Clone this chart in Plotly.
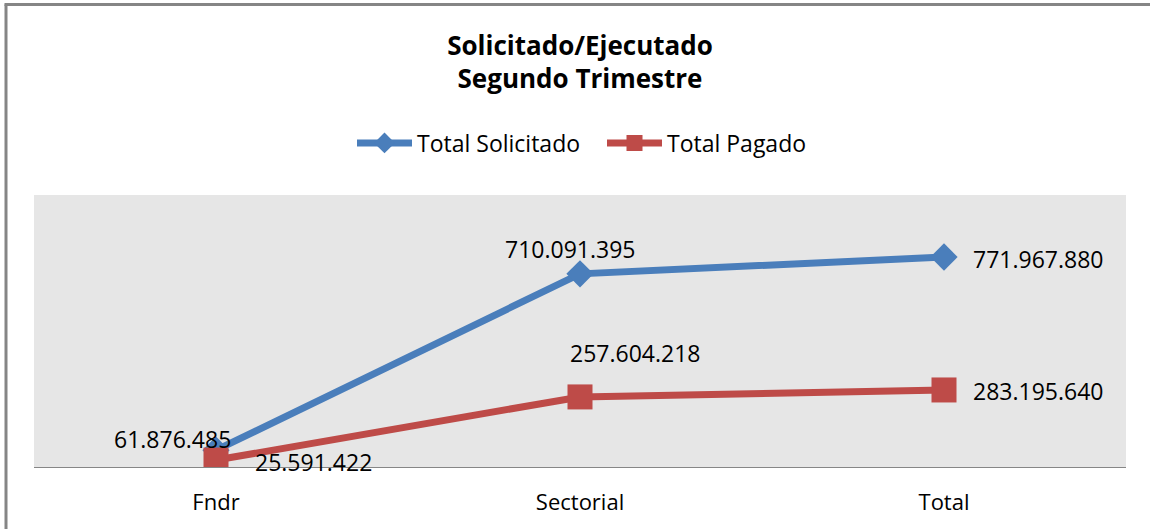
import plotly.graph_objects as go

categories = ["Fndr", "Sectorial", "Total"]
solicitado = [61876485, 710091395, 771967880]
pagado = [25591422, 257604218, 283195640]
solicitado_labels = ["61.876.485", "710.091.395", "771.967.880"]
pagado_labels = ["25.591.422", "257.604.218", "283.195.640"]

FONT = "Open Sans, Liberation Sans, sans-serif"
BLUE = "#4A7EBB"
RED = "#BE4B48"

fig = go.Figure()
fig.add_trace(go.Scatter(
    x=categories, y=solicitado, name="Total Solicitado", mode="lines+markers",
    line=dict(color=BLUE, width=7),
    marker=dict(symbol="diamond", size=21, color=BLUE),
))
fig.add_trace(go.Scatter(
    x=categories, y=pagado, name="Total Pagado", mode="lines+markers",
    line=dict(color=RED, width=7),
    marker=dict(symbol="square", size=25, color=RED),
))

# data labels (offsets in pixels relative to each point)
blue_off = [(-44, 11, "center"), (-10, 25, "center"), (27, -2, "left")]
red_off = [(37, -2, "left"), (55, 44, "center"), (27, -1, "left")]
for cat, val, lab, (dx, dy, xa) in zip(categories, solicitado, solicitado_labels, blue_off):
    fig.add_annotation(x=cat, y=val, text=lab, showarrow=False, xanchor=xa, yanchor="middle",
                       xshift=dx, yshift=dy, font=dict(family=FONT, size=23, color="#000000"))
for cat, val, lab, (dx, dy, xa) in zip(categories, pagado, pagado_labels, red_off):
    fig.add_annotation(x=cat, y=val, text=lab, showarrow=False, xanchor=xa, yanchor="middle",
                       xshift=dx, yshift=dy, font=dict(family=FONT, size=23, color="#000000"))

# outer frame (top and left edges visible)
L, R, T, B = 34, 24, 195, 62
W, H = 1150, 529
pw, ph = W - L - R, H - T - B
def px(x):
    return (x - L) / pw
def py(y):
    return (H - B - y) / ph
fig.add_shape(type="line", xref="paper", yref="paper", x0=px(4.5), x1=px(1150), y0=py(4.5), y1=py(4.5),
              line=dict(color="#858585", width=3))
fig.add_shape(type="line", xref="paper", yref="paper", x0=px(6), x1=px(6), y0=py(4.5), y1=py(529),
              line=dict(color="#858585", width=3))

fig.update_layout(
    width=W, height=H,
    margin=dict(l=L, r=R, t=T, b=B),
    paper_bgcolor="white",
    plot_bgcolor="#E6E6E6",
    title=dict(text="<b>Solicitado/Ejecutado<br>Segundo Trimestre</b>", x=0.5, xref="paper",
               y=1 - 54.5 / H, yref="container", yanchor="middle", xanchor="center",
               font=dict(family=FONT, size=26, color="#000000")),
    legend=dict(orientation="h", x=px(352), xanchor="left", y=py(143), yanchor="middle",
                font=dict(family=FONT, size=23, color="#000000"), bgcolor="rgba(0,0,0,0)",
                itemwidth=55, entrywidth=180, entrywidthmode="pixels"),
    showlegend=True,
    xaxis=dict(range=[-0.5, 2.5], showgrid=False, zeroline=False, showline=True,
               linecolor="#868686", linewidth=1, ticks="", ticklabelstandoff=16,
               tickfont=dict(family=FONT, size=22, color="#000000")),
    yaxis=dict(range=[0, 1000000000], showgrid=False, zeroline=False, showline=False,
               showticklabels=False, ticks=""),
)

fig.write_html("out.html", config={"displayModeBar": False},
               post_script="document.body.style.margin='0';document.body.style.overflow='hidden';")
